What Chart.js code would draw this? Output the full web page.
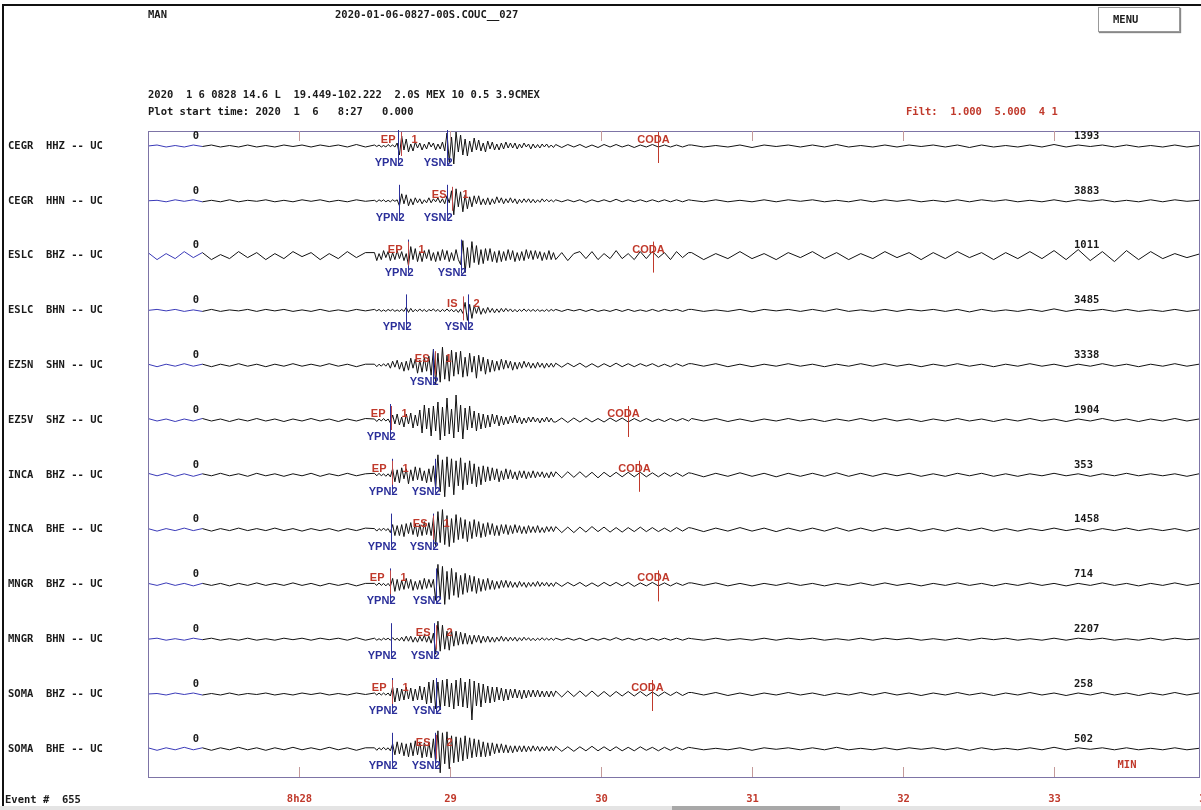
<!DOCTYPE html>
<html>
<head>
<meta charset="utf-8">
<script src="https://cdn.jsdelivr.net/npm/chart.js@4.4.1/dist/chart.umd.min.js"></script>
<style>
  body { margin: 0; background: #fff; width: 1201px; height: 810px; overflow: hidden; position: relative; }
  #plot { position: absolute; left: 0; top: 0; }
  .txt { position: absolute; font: bold 10.5px "DejaVu Sans Mono", monospace; white-space: pre; color: #1a1a1a; line-height: 12px; }
  .red { color: #c0392b; }
  #frame { position: absolute; left: 2px; top: 4px; width: 1199px; height: 806px; border-left: 2px solid #111; border-top: 2px solid #111; box-sizing: border-box; }
  #menu { position: absolute; left: 1098px; top: 7px; width: 82px; height: 25px; border: 1px solid #999; box-shadow: 1px 1px 1px #888; box-sizing: border-box; font: bold 10.5px "DejaVu Sans Mono", monospace; line-height: 23px; padding-left: 14px; color: #1a1a1a; }
  #scroll { position: absolute; left: 0; top: 806px; width: 1201px; height: 4px; background: #e4e4e4; }
  #thumb { position: absolute; left: 672px; top: 806px; width: 168px; height: 4px; background: #a8a8a8; }
</style>
</head>
<body>
<div id="frame"></div>
<canvas id="plot" width="1201" height="810"></canvas>
<div class="txt" style="left:148px;top:8px">MAN</div>
<div class="txt" style="left:335px;top:8px">2020-01-06-0827-00S.COUC__027</div>
<div class="txt" style="left:148px;top:88px">2020  1 6 0828 14.6 L  19.449-102.222  2.0S MEX 10 0.5 3.9CMEX</div>
<div class="txt" style="left:148px;top:105px">Plot start time: 2020  1  6   8:27   0.000</div>
<div class="txt red" style="left:906px;top:105px">Filt:  1.000  5.000  4 1</div>
<div id="menu">MENU</div>
<div class="txt" style="left:5px;top:793px">Event #  655</div>
<div id="scroll"></div>
<div id="thumb"></div>
<script>
// minutos desde 8:27:00
const sampleTimes = [
  0, 0.06, 0.12, 0.18, 0.24, 0.3, 0.36, 0.42, 0.48, 0.54, 0.6, 0.66, 0.72, 0.78, 0.84, 0.9, 0.96, 1.02, 1.08, 1.14, 1.2, 1.26, 1.32, 1.38, 1.44,
  1.5, 1.515, 1.53, 1.545, 1.56, 1.575, 1.59, 1.605, 1.62, 1.635, 1.65, 1.665, 1.68, 1.695, 1.71, 1.725, 1.74, 1.755, 1.77, 1.785,
  1.8, 1.815, 1.83, 1.845, 1.86, 1.875, 1.89, 1.905, 1.92, 1.935, 1.95, 1.965, 1.98, 1.995, 2.01, 2.025, 2.04, 2.055, 2.07, 2.085,
  2.1, 2.115, 2.13, 2.145, 2.16, 2.175, 2.19, 2.205, 2.22, 2.235, 2.25, 2.265, 2.28, 2.295, 2.31, 2.325, 2.34, 2.355, 2.37, 2.385,
  2.4, 2.415, 2.43, 2.445, 2.46, 2.475, 2.49, 2.505, 2.52, 2.535, 2.55, 2.565, 2.58, 2.595, 2.61, 2.625, 2.64, 2.655, 2.67, 2.685,
  2.7, 2.74, 2.78, 2.82, 2.86, 2.9, 2.94, 2.98, 3.02, 3.06, 3.1, 3.14, 3.18, 3.22, 3.26, 3.3, 3.34, 3.38, 3.42, 3.46, 3.5, 3.54, 3.58,
  3.6, 3.68, 3.76, 3.84, 3.92, 4, 4.08, 4.16, 4.24, 4.32, 4.4, 4.48, 4.56, 4.64, 4.72, 4.8, 4.88, 4.96, 5.04, 5.12, 5.2,
  5.28, 5.36, 5.44, 5.52, 5.6, 5.68, 5.76, 5.84, 5.92, 6, 6.08, 6.16, 6.24, 6.32, 6.4, 6.48, 6.56, 6.64, 6.72, 6.8, 6.88, 6.96
];

// amplitudes (aprox. en pixeles de la figura, positivo = arriba)
const cegrHhz = [
  0,1,-1,0.5,-1, 1,-0.5,1,-1,0.5, -1,1,-1,0.5,-1, 1,-0.5,1,-1,1, -0.5,1,-1,1.5,-1,
  1,-0.5,1,-1,0.5,-1,1.5,-0.5,1,-1, 3,-9,10,-4,7,-6,2,-5,4,-2, 3,-4,2,-3,4,-1,3,-4,2,-3, 4,-5,13,-16,9,-18,14,-6,11,-9,
  7,-10,5,-6,8,-4,6,-5,3,-6, 5,-3,4,-4,2,-4,3,-3,4,-2, 3,-2,3,-3,2,-2,3,-1,2,-3, 2,-2,1.5,-2,2,-1,2,-1.5,1,-1.5,
  1.5,-1.5,1.5,-1,1.5, -1.5,1,-1.5,1.5,-1, 1.5,-1,1,-1.5,1, -1,1.5,-1,1,-1, 1,-1,1,
  1,-1,0.5,-1,1, -1.5,1,-0.5,1,-1, 1,-1,1.5,-1,0.5, -1,1,-1,1,-0.5, 1,-1,1,-1.5,1, -1,0.5,-1,1,-1, 1.5,-1,1,-0.5,1, -1,1,-1,0.5,-1, 1,-1,0.5
];
const cegrHhn = [
  0,0.5,-1,1,-0.5, 1,-1,0.5,-1,1, -1,0.5,-0.5,1,-1, 0.5,-1,1,-0.5,1, -1,0.5,-1,1,-0.5,
  0.5,-1,1,-0.5,1,-1,0.5,-1,1,-0.5, 1,-5,7,-3,6,-5,2,-4,3,-2, 2,-3,1,-2,3,-2,2,-1,3,-2, 2,-3,5,-2,10,-14,12,-6,9,-11,
  6,-8,4,-6,5,-3,5,-4,2,-4, 3,-4,2,-3,4,-2,3,-3,2,-2, 3,-2,2,-3,1.5,-2,2,-1.5,2,-2, 1.5,-2,1,-1.5,2,-1,1.5,-1,1,-1,
  1,-1,1,-1,1, -1.5,1,-1,1,-1, 1.5,-1,1,-1,1, -1,1,-1,1,-1, 1,-1,1,
  0.5,-1,1,-1,0.5, -1,1,-1,1,-0.5, 1,-1,0.5,-1,1, -1,1,-0.5,1,-1, 0.5,-1,1,-1,1, -0.5,1,-1,0.5,-1, 1,-1,1,-0.5,1, -1,0.5,-1,1,-1, 1,-0.5,0.5
];
const eslcBhz = [
  3,-4,2,-3,4, -2,3,-4,1,-3, 4,-2,3,-4,2, -3,4,-1,3,-4, 2,-3,4,-2,3,
  3,-5,2,-4,5,-2,4,-5,3,-4, 5,-3,4,-5,2,-10,9,-4,7,-6, 4,-6,5,-3,6,-5,3,-6,4,-5, 6,-4,5,-6,3,-5,6,-4,-9,15,
  -17,8,-12,14,-7,10,-9,6,-8,7, -5,7,-6,4,-7,5,-6,4,-5,6, -4,5,-6,3,-5,4,-5,6,-3,5, -4,5,-3,4,-5,3,-4,5,-4,3,
  -4,3,-5,2,4, -3,4,-4,2,-3, 5,-3,2,-4,4, -3,4,-2,3,-4, 4,-2,3,
  3,-4,2,-3,4, -3,2,-4,3,-2, 4,-3,3,-4,2, -3,4,-2,3,-4, 3,-3,4,-2,3, -4,3,-3,4,-3, 5,-4,6,-5,4, -6,5,-4,4,-3, 2,-2,1.5
];
const eslcBhn = [
  0,1,-0.5,1,-1, 0.5,-1,1,-1,0.5, -0.5,1,-1,1,-0.5, 1,-1,0.5,-1,1, -1,0.5,-1,1,-0.5,
  1,-0.5,1,-1,0.5,-1,1,-0.5,1,-1, 0.5,-1,1,-1,3,-2,2,-1.5,1,-1, 1.5,-1,1,-1.5,1,-0.5,1.5,-1,1,-1.5, 1,-1,1.5,-1,1,-1.5,1,-2,1.5,-3,
  8,-10,6,-8,5,-3,4,-4,2,-3, 3,-2,2,-2.5,1.5,-2,2,-1.5,2,-1, 1.5,-1.5,1,-1.5,1,-1,1.5,-1,1,-1, 1,-1,1,-1,0.5,-1,1,-1,1,-0.5,
  1,-1,1,-0.5,1, -1,1,-1,0.5,-1, 1,-1,1,-1,0.5, -1,1,-1,1,-0.5, 1,-1,1,
  1,-1,0.5,-1,1, -1.5,1,-0.5,1,-1, 1,-1,1.5,-1,0.5, -1,1,-1,1,-0.5, 1,-1,1,-1.5,1, -1,0.5,-1,1,-1, 1.5,-1,1,-0.5,1, -1,1,-1,0.5,-1, 1,-1,0.5
];
const ez5nShn = [
  1,-1.5,1,-1,1.5, -1,1,-1.5,1,-1, 1.5,-1,1,-1.5,1, -1,1.5,-1,1,-1, 1.5,-1,1,-1.5,1,
  1,-1.5,1,-1,1.5,-1,2,-3,4,-2, 5,-4,3,-6,4,-5,7,-3,6,-8, 5,-7,8,-6,9,-10,16,-19,12,-17, 18,-14,10,-16,15,-11,13,-9,14,-12,
  8,-11,12,-7,9,-13,10,-6,8,-9, 6,-7,5,-6,4,-5,6,-4,5,-3, 4,-5,3,-4,3,-3,4,-2,3,-3, 2,-3,3,-2,2,-3,2,-2,2,-2,
  2,-2,2,-1.5,2, -2,1.5,-2,1.5,-1.5, 2,-1.5,1.5,-1.5,1.5, -1,1.5,-1.5,1,-1.5, 1.5,-1,1.5,
  1.5,-1,1.5,-1.5,1, -1.5,1,-1,1.5,-1, 1,-1.5,1,-1,1.5, -1,1.5,-1,1,-1.5, 1,-1,1.5,-1,1, -1.5,1,-1,1.5,-1, 1,-1.5,1,-1,1.5, -1,1,-1.5,1,-1, 1.5,-1,1
];
const ez5vShz = [
  1.5,-1,1,-1.5,1, -1,1.5,-1,1,-1.5, 1,-1,1.5,-1,1, -1.5,1,-1,1.5,-1, 1,-1.5,1,-1,1.5,
  1,-1.5,1,-1,1.5,-1,1,-3,5,-4, 6,-5,3,-7,6,-4,7,-8,5,-6, 10,-13,15,-9,12,-16,14,-11,18,-20, 13,-16,22,-14,11,-18,25,-12,15,-19,
  12,-10,14,-8,9,-11,7,-9,6,-8, 5,-7,6,-4,5,-6,4,-5,3,-4, 4,-3,5,-3,3,-4,2,-3,3,-2, 3,-2,2,-3,2,-2,3,-2,2,-2,
  -2,2,-2.5,2,-2, 2,-2,1.5,-2,2, -1.5,2,-2,1.5,-1.5, 1.5,-1.5,1,-1.5,1.5, -1,1.5,-1,
  1.5,-1,1.5,-1.5,1, -1.5,1,-1,1.5,-1, 1,-1.5,1,-1,1.5, -1,1.5,-1,1,-1.5, 1,-1,1.5,-1,1, -1.5,1,-1,1.5,-1, 1,-1.5,1,-1,1.5, -1,1,-1.5,1,-1, 1.5,-1,1
];
const incaBhz = [
  1.5,-1,1.5,-1.5,1, -1.5,1,-1,1.5,-1, 1,-1.5,1.5,-1,1, -1.5,1,-1,1.5,-1.5, 1,-1,1.5,-1,1,
  1.5,-1,1.5,-1,1,-1.5,1,-2,6,-7, 5,-8,7,-4,6,-9,5,-6,8,-5, 7,-6,4,-8,6,-7,9,-14,20,-17, 15,-22,18,-12,16,-20,14,-11,17,-15,
  12,-10,14,-9,11,-12,8,-10,9,-7, 8,-6,7,-5,6,-7,4,-5,6,-4, 5,-4,3,-5,4,-3,4,-4,3,-3, 4,-3,3,-2,3,-3,2,-3,3,-2,
  3,-3,3,-2.5,3, -2.5,2.5,-3,2.5,-2, 2.5,-2,2.5,-2,2.5, -2,2,-2,2,-1.5, 2,-1.5,2,
  1.5,-2,1.5,-1.5,2, -1.5,1.5,-2,1.5,-1.5, 1.5,-1.5,2,-1.5,1.5, -1.5,1.5,-1,1.5,-1.5, 1,-1.5,1.5,-1,1.5, -1.5,1,-1.5,1,-1, 1.5,-1,1,-1.5,1, -1,1.5,-1,1,-1, 1,-1.5,1
];
const incaBhe = [
  1,-1.5,1,-1,1.5, -1,1,-1.5,1,-1, 1.5,-1,1,-1,1.5, -1,1,-1.5,1,-1, 1,-1.5,1,-1,1.5,
  1,-1.5,1,-1,1.5,-1,1,-3,5,-6, 4,-6,5,-7,6,-4,7,-5,6,-7, 5,-6,8,-5,7,-6,12,-16,18,-13, 20,-15,14,-17,11,-13,15,-10,12,-9,
  10,-12,8,-9,10,-7,8,-8,6,-7, 7,-5,6,-6,4,-6,5,-4,5,-5, 4,-4,5,-3,4,-4,3,-4,4,-3, 3,-3,4,-3,2,-3,3,-2,3,-2,
  3,-3,2.5,-3,2.5, -2.5,3,-2,2.5,-2.5, 2,-2.5,2,-2,2.5, -2,2,-2,1.5,-2, 2,-1.5,2,
  1.5,-2,1.5,-1.5,2, -1.5,1.5,-2,1.5,-1.5, 1.5,-1.5,2,-1.5,1.5, -1.5,1.5,-1,1.5,-1.5, 1,-1.5,1.5,-1,1.5, -1.5,1,-1.5,1,-1, 1.5,-1,1,-1.5,1, -1,1.5,-1,1,-1, 1,-1.5,1
];
const mngrBhz = [
  1,-1,1.5,-1,1, -1.5,1,-1,1,-1.5, 1,-1,1.5,-1,1, -1,1.5,-1,1,-1.5, 1,-1,1,-1.5,1,
  1,-1,1.5,-1,1,-1.5,1,-2,6,-7, 5,-6,4,-5,6,-4,5,-6,3,-5, 4,-5,6,-4,5,-3,5,-16,20,-14, 18,-20,13,-15,16,-11,12,-13,9,-10,
  11,-8,9,-7,8,-9,6,-7,5,-6, 6,-5,4,-5,3,-4,4,-3,4,-3, 3,-3,2,-3,3,-2,2,-3,2,-2, 2,-2,3,-2,2,-1.5,2,-2,1.5,-2,
  2,-2,2,-1.5,2, -2,1.5,-2,2,-1.5, 2,-1.5,2,-2,1.5, -1.5,2,-1.5,1.5,-1.5, 1.5,-1,1.5,
  1.5,-1,1.5,-1.5,1, -1.5,1,-1,1.5,-1, 1,-1.5,1,-1,1.5, -1,1.5,-1,1,-1.5, 1,-1,1.5,-1,1, -1.5,1,-1,1.5,-1, 1,-1.5,1,-1,1.5, -1,1,-1.5,1,-1, 1.5,-1,1
];
const mngrBhn = [
  0,1,-1,0.5,-1, 1,-0.5,1,-1,0.5, -1,1,-1,0.5,-1, 1,-0.5,1,-1,1, -0.5,1,-1,1.5,-1,
  1,-1,0.5,-1,1,-0.5,1,-1,1.5,-1, 1,-1.5,2,-2,3,-2,3,-3,2,-3, 3,-2,4,-3,3,-4,6,-15,18,-12, 14,-10,8,-11,9,-7,8,-6,7,-5,
  6,-5,4,-5,4,-3,4,-4,3,-3, 3,-3,2,-3,2,-2,3,-2,2,-2, 2,-1.5,2,-2,1.5,-1.5,2,-1,1.5,-1.5, 1,-1.5,1,-1,1.5,-1,1,-1,1,-1,
  1,-1,1,-1,1, -1.5,1,-1,1,-1, 1.5,-1,1,-1,1, -1,1,-1,1,-1, 1,-1,1,
  0.5,-1,1,-1,0.5, -1,1,-1,1,-0.5, 1,-1,0.5,-1,1, -1,1,-0.5,1,-1, 0.5,-1,1,-1,1, -0.5,1,-1,0.5,-1, 1,-1,1,-0.5,1, -1,0.5,-1,1,-1, 1,-0.5,0.5
];
const somaBhz = [
  0,0.5,-1,1,-0.5, 1,-1,0.5,-1,1, -1,0.5,-0.5,1,-1, 0.5,-1,1,-0.5,1, -1,0.5,-1,1,-0.5,
  1,-1,1,-1,1,-1,1,-2,7,-8, 6,-7,5,-6,7,-5,6,-7,5,-6, 8,-6,7,-10,12,-9,14,-15,12,-16, 14,-12,15,-13,11,-15,14,-12,16,-13,
  12,-14,15,-26,13,-12,11,-13,10,-9, 8,-9,7,-8,7,-6,6,-7,5,-6, 5,-4,5,-4,4,-5,4,-4,4,-3, 4,-3,4,-3,3,-3,3,-3,3,-2.5,
  3,-3,3,-2.5,3, -2.5,3,-2.5,2.5,-2.5, 2.5,-2,2.5,-2,2.5, -2,2,-2,2,-1.5, 2,-1.5,1.5,
  1.5,-1,1.5,-1.5,1, -1.5,1,-1,1.5,-1, 1,-1.5,1,-1,1.5, -1,1.5,-1,1,-1.5, 1,-1,1.5,-1,1, -1.5,1,-1,1.5,-1, 1,-1.5,1,-1,1.5, -1,1,-1.5,1,-1, 1.5,-1,1
];
const somaBhe = [
  1,-1.5,1,-1,1.5, -1,1,-1.5,1,-1, 1.5,-1,1,-1.5,1, -1,1.5,-1,1,-1, 1.5,-1,1,-1.5,1,
  1,-1.5,1,-1,1.5,-1,1,-2,5,-6, 7,-5,6,-7,5,-8,6,-7,8,-6, 7,-9,6,-8,7,-9,10,-14,18,-24, 16,-15,17,-20,13,-14,12,-13,11,-12,
  13,-10,11,-9,10,-8,9,-8,7,-8, 6,-7,6,-5,5,-4,5,-4,4,-4, 3,-4,3,-3,3,-3,3,-3,2.5,-2.5, 3,-2,2.5,-2.5,2,-2,2.5,-2,2,-2,
  2.5,-2.5,2,-2.5,2, -2,2.5,-2,2,-2, 2,-2,1.5,-2,2, -1.5,1.5,-2,1.5,-1.5, 1.5,-1,1.5,
  1,-1,0.5,-1,1, -1.5,1,-0.5,1,-1, 1,-1,1.5,-1,0.5, -1,1,-1,1,-0.5, 1,-1,1,-1.5,1, -1,0.5,-1,1,-1, 1.5,-1,1,-0.5,1, -1,1,-1,0.5,-1, 1,-1,0.5
];

const stationLabels = ['CEGR  HHZ -- UC', 'CEGR  HHN -- UC', 'ESLC  BHZ -- UC', 'ESLC  BHN -- UC', 'EZ5N  SHN -- UC', 'EZ5V  SHZ -- UC',
  'INCA  BHZ -- UC', 'INCA  BHE -- UC', 'MNGR  BHZ -- UC', 'MNGR  BHN -- UC', 'SOMA  BHZ -- UC', 'SOMA  BHE -- UC'];
const traceAmps = [cegrHhz, cegrHhn, eslcBhz, eslcBhn, ez5nShn, ez5vShz, incaBhz, incaBhe, mngrBhz, mngrBhn, somaBhz, somaBhe];
const maxCounts = [1393, 3883, 1011, 3485, 3338, 1904, 353, 1458, 714, 2207, 258, 502];

// lecturas de fases (minutos desde 8:27)
const ypn2Times = [1.656, 1.662, 1.722, 1.709, null, 1.603, 1.616, 1.609, 1.603, 1.609, 1.616, 1.616];
const ysn2Times = [1.980, 1.980, 2.073, 2.119, 1.887, null, 1.901, 1.887, 1.907, 1.894, 1.907, 1.901];
const redPhases = ['EP', 'ES', 'EP', 'IS', 'ES', 'EP', 'EP', 'ES', 'EP', 'ES', 'EP', 'ES'];
const redTimes = [1.675, 2.013, 1.722, 2.086, 1.901, 1.609, 1.616, 1.887, 1.603, 1.907, 1.616, 1.907];
const redWeights = ['1', '1', '1', '2', '1', '1', '1', '1', '1', '2', '1', '2'];
const codaTimes = [3.377, null, 3.344, null, null, 3.179, 3.252, null, 3.377, null, 3.338, null];

const minuteTicks = [1, 2, 3, 4, 5, 6, 7];
const minuteLabels = ['8h28', '29', '30', '31', '32', '33', '34'];

// separacion vertical entre trazas (en unidades del eje y)
const traceBase = i => 15 + 54.8 * i;

const seisPlugin = {
  id: 'seisPlugin',
  afterDatasetsDraw(chart) {
    const { ctx, chartArea: a, scales: { x, y } } = chart;
    const vline = (px, y0, y1, color) => {
      ctx.strokeStyle = color;
      ctx.beginPath();
      ctx.moveTo(px, y0);
      ctx.lineTo(px, y1);
      ctx.stroke();
    };
    ctx.save();
    ctx.lineWidth = 1;

    // marco
    ctx.strokeStyle = '#7d74a6';
    ctx.strokeRect(a.left + 0.5, a.top + 0.5, a.right - a.left, a.bottom - a.top);

    // marcas de minutos
    minuteTicks.forEach((m, k) => {
      const px = Math.round(x.getPixelForValue(m)) + 0.5;
      if (px < a.right) {
        vline(px, a.top, a.top + 10, '#c49a9a');
        vline(px, a.bottom - 10, a.bottom, '#c49a9a');
      }
      ctx.fillStyle = '#c0392b';
      ctx.font = 'bold 10.5px "DejaVu Sans Mono"';
      ctx.textAlign = 'center';
      ctx.textBaseline = 'middle';
      ctx.fillText(minuteLabels[k], px, 799);
    });
    ctx.fillText('MIN', 1127, 765);

    stationLabels.forEach((name, i) => {
      const by = y.getPixelForValue(traceBase(i));
      ctx.textBaseline = 'middle';
      ctx.font = 'bold 10.5px "DejaVu Sans Mono"';
      ctx.fillStyle = '#1a1a1a';
      ctx.textAlign = 'left';
      ctx.fillText(name, 8, by);
      ctx.fillText(String(maxCounts[i]), 1074, by - 10);
      ctx.textAlign = 'center';
      ctx.fillText('0', 196, by - 10);

      ctx.font = 'bold 11px "Liberation Sans"';
      if (ypn2Times[i] !== null) {
        const px = Math.round(x.getPixelForValue(ypn2Times[i])) + 0.5;
        vline(px, by - 16, by + 18, '#2b2f9a');
        ctx.fillStyle = '#2b2f9a';
        ctx.textAlign = 'right';
        ctx.fillText('YPN2', px + 5, by + 17);
      }
      if (ysn2Times[i] !== null) {
        const px = Math.round(x.getPixelForValue(ysn2Times[i])) + 0.5;
        vline(px, by - 16, by + 18, '#2b2f9a');
        ctx.fillStyle = '#2b2f9a';
        ctx.textAlign = 'right';
        ctx.fillText('YSN2', px + 5, by + 17);
      }
      const rx = Math.round(x.getPixelForValue(redTimes[i])) + 0.5;
      vline(rx, by - 14, by + 10, '#c04848');
      ctx.fillStyle = '#c0392b';
      ctx.textAlign = 'right';
      ctx.fillText(redPhases[i], rx - 6, by - 6);
      ctx.textAlign = 'center';
      ctx.fillText(redWeights[i], rx + 13, by - 6);
      if (codaTimes[i] !== null) {
        const cx = Math.round(x.getPixelForValue(codaTimes[i])) + 0.5;
        vline(cx, by - 14, by + 17, '#c0392b');
        ctx.fillStyle = '#c0392b';
        ctx.textAlign = 'center';
        ctx.fillText('CODA', cx - 5, by - 6);
      }
    });
    ctx.restore();
  }
};

const datasets = traceAmps.map((amp, i) => ({
  label: stationLabels[i],
  data: amp.map((v, j) => ({ x: sampleTimes[j], y: traceBase(i) - v })),
  borderColor: '#111',
  borderWidth: 1,
  pointRadius: 0,
  tension: 0,
  segment: {
    borderColor: c => (c.p0.parsed.x < 0.34 ? '#3a3ab8' : '#111')
  }
}));

new Chart(document.getElementById('plot').getContext('2d'), {
  type: 'line',
  data: { datasets: datasets },
  options: {
    responsive: false,
    animation: false,
    layout: { padding: { left: 148, right: 2, top: 131, bottom: 33 } },
    plugins: { legend: { display: false }, tooltip: { enabled: false } },
    scales: {
      x: { type: 'linear', min: 0, max: 6.96, display: false },
      y: { min: 0, max: 646, reverse: true, display: false }
    }
  },
  plugins: [seisPlugin]
});
</script>
</body>
</html>
